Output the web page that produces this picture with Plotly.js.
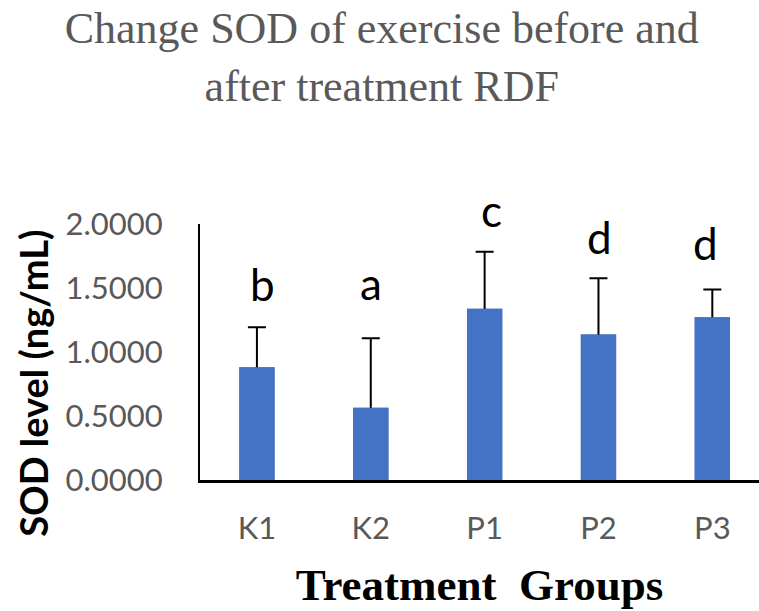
<!DOCTYPE html>
<html>
<head>
<meta charset="utf-8">
<script src="https://cdn.plot.ly/plotly-3.0.1.min.js"></script>
<style>html,body{margin:0;padding:0;background:#fff;}#chart{width:759px;height:611px;}</style>
</head>
<body>
<div id="chart"></div>
<script>
// Data
var groups = ['K1', 'K2', 'P1', 'P2', 'P3'];
var sodMean = [0.881, 0.564, 1.337, 1.137, 1.272];
var sodErr = [0.313, 0.544, 0.447, 0.440, 0.216];
var sigLetters = ['b', 'a', 'c', 'd', 'd'];
var yTickVals = [0, 0.5, 1.0, 1.5, 2.0];

var barColor = '#4472C4';

// bar with error bars (symmetric; lower half is hidden by the overlay bar)
var traceErr = {
  type: 'bar',
  x: groups,
  y: sodMean,
  width: 0.31,
  marker: {color: barColor, line: {width: 0}},
  error_y: {type: 'data', array: sodErr, symmetric: true, color: '#000000', thickness: 2, width: 9},
  showlegend: false,
  hoverinfo: 'x+y'
};
var traceCover = {
  type: 'bar',
  x: groups,
  y: sodMean,
  width: 0.31,
  marker: {color: barColor, line: {width: 0}},
  showlegend: false,
  hoverinfo: 'skip'
};

// letter placement tweaks (pixels) to mirror the reference
var letterDx = [6, 0, 6.5, 1, -7.3];
var letterDy = [15.6, 27.6, 13.3, 13.3, 18.9];

var annotations = groups.map(function (g, i) {
  return {
    x: g, y: sodMean[i] + sodErr[i], xref: 'x', yref: 'y',
    text: sigLetters[i], showarrow: false,
    xanchor: 'center', yanchor: 'bottom',
    xshift: letterDx[i], yshift: letterDy[i],
    font: {family: 'Lato', size: 44, color: '#000000'}
  };
});
annotations.push({
  x: -0.299, y: 0.379, xref: 'paper', yref: 'paper',
  text: 'SOD level (ng/mL)', showarrow: false, textangle: -90,
  xanchor: 'center', yanchor: 'middle',
  font: {family: 'Lato', size: 38, color: '#000000', weight: 'bold'}
});

var layout = {
  width: 759, height: 611,
  margin: {l: 200, r: 0, t: 224, b: 131, pad: 0},
  paper_bgcolor: '#ffffff', plot_bgcolor: '#ffffff',
  barmode: 'overlay',
  title: {
    text: 'Change SOD of exercise before and<br>after treatment RDF',
    font: {family: 'Liberation Serif', size: 44, color: '#595959'},
    xref: 'container', x: 0.503, xanchor: 'center',
    yref: 'container', y: 0.929, yanchor: 'top'
  },
  xaxis: {
    type: 'category',
    range: [-0.5, 4.41],
    showline: true, linecolor: '#000000', linewidth: 3,
    showgrid: false, zeroline: false,
    ticks: 'outside', ticklen: 19, tickcolor: 'rgba(0,0,0,0)',
    tickfont: {family: 'Lato', size: 31, color: '#595959'},
    title: {
      text: 'Treatment\u00A0 Groups',
      font: {family: 'Liberation Serif', size: 45, color: '#000000', weight: 'bold'},
      standoff: 24
    },
    fixedrange: true
  },
  yaxis: {
    range: [0, 2],
    tickvals: yTickVals,
    tickformat: '.4f',
    showline: true, linecolor: '#000000', linewidth: 2,
    showgrid: false, zeroline: false,
    ticks: 'outside', ticklen: 29, tickcolor: 'rgba(0,0,0,0)',
    tickfont: {family: 'Lato', size: 31, color: '#595959'},
    fixedrange: true
  },
  annotations: annotations,
  showlegend: false
};

Plotly.newPlot('chart', [traceErr, traceCover], layout, {displayModeBar: false, staticPlot: true});
</script>
</body>
</html>
